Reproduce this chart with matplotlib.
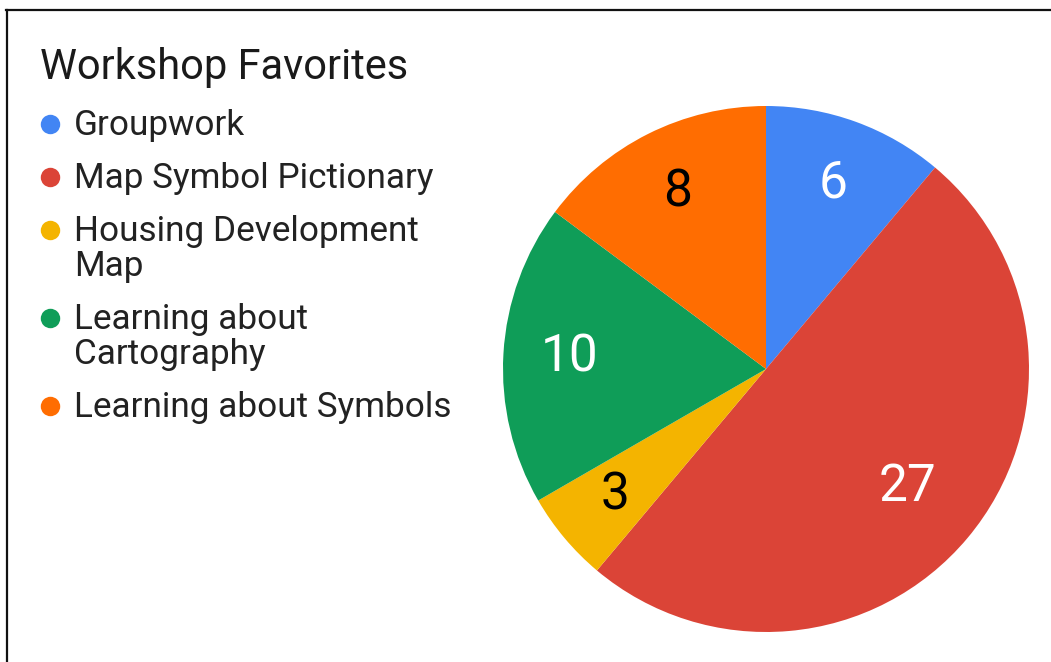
import matplotlib
matplotlib.use("Agg")
import matplotlib.pyplot as plt
from matplotlib.font_manager import FontProperties
from matplotlib.lines import Line2D
import numpy as np

# Survey results
title = "Workshop Favorites"
categories = [
    "Groupwork",
    "Map Symbol Pictionary",
    "Housing Development Map",
    "Learning about Cartography",
    "Learning about Symbols",
]
votes = [6, 27, 3, 10, 8]

colors = ["#4285F4", "#DB4437", "#F4B400", "#0F9D58", "#FF6D01"]
label_colors = ["white", "white", "black", "white", "black"]
label_radius = [0.75, 0.70, 0.75, 0.75, 0.75]

W, H, DPI = 1051, 662, 100
plt.rcParams["font.family"] = ["Roboto", "DejaVu Sans"]

fig = plt.figure(figsize=(W / DPI, H / DPI), dpi=DPI, facecolor="white")

# Pie area (square, in pixels)
cx, cy, r = 766, 369, 263
ax = fig.add_axes([(cx - r) / W, (H - cy - r) / H, 2 * r / W, 2 * r / H])
wedges, texts = ax.pie(
    votes,
    labels=[str(v) for v in votes],
    colors=colors,
    startangle=90,
    counterclock=False,
    labeldistance=0.75,
    radius=1.0,
    wedgeprops=dict(linewidth=0),
    textprops=dict(fontsize=37, ha="center", va="center"),
)
for w, t, c, d in zip(wedges, texts, label_colors, label_radius):
    t.set_color(c)
    mid = np.deg2rad((w.theta1 + w.theta2) / 2)
    t.set_position((d * np.cos(mid), d * np.sin(mid)))
ax.set_xlim(-1, 1)
ax.set_ylim(-1, 1)
ax.set_aspect("equal")
ax.axis("off")

# Title
fig.text(40 / W, 1 - 79 / H, title, fontsize=30, color="#1a1a1a",
         ha="left", va="baseline")

# Legend with word wrapping
leg_font = FontProperties(family=["Roboto", "DejaVu Sans"], size=25.3)
renderer = fig.canvas.get_renderer()
max_w = 395


def wrap(label):
    lines, cur = [], ""
    for word in label.split():
        trial = word if not cur else cur + " " + word
        w, _, _ = renderer.get_text_width_height_descent(trial, leg_font, ismath=False)
        if w > max_w and cur:
            lines.append(cur)
            cur = word
        else:
            cur = trial
    lines.append(cur)
    return lines


baseline = 135
line_h = 35
item_gap = 18
for name, col in zip(categories, colors):
    lines = wrap(name)
    fig.add_artist(Line2D([50 / W], [1 - (baseline - 11.5) / H], marker="o",
                          markersize=14, color=col, markeredgewidth=0,
                          linestyle="none", transform=fig.transFigure))
    for i, ln in enumerate(lines):
        fig.text(74 / W, 1 - (baseline + i * line_h) / H, ln,
                 fontproperties=leg_font, color="#222222",
                 ha="left", va="baseline")
    baseline += len(lines) * line_h + item_gap

# Frame edges (left and top)
fig.add_artist(Line2D([6.5 / W, 6.5 / W], [0, 1 - 9.5 / H], color="#111111",
                      linewidth=1.6, transform=fig.transFigure))
fig.add_artist(Line2D([5.7 / W, 1], [1 - 9.5 / H, 1 - 9.5 / H], color="#111111",
                      linewidth=1.6, transform=fig.transFigure))

fig.savefig("out.png", dpi=DPI, facecolor="white")
